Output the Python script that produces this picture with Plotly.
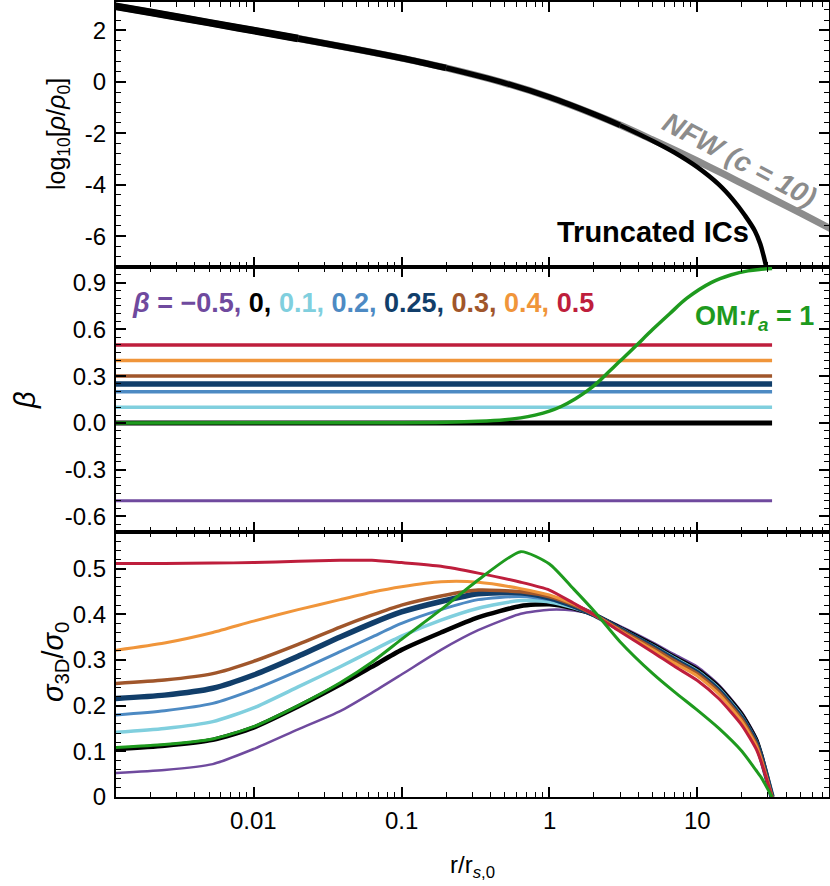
import math
import plotly.graph_objects as go
from plotly.subplots import make_subplots

# ---- top panel: log10 density ----
r_nfw = [0.0011, 0.002, 0.005, 0.01, 0.02, 0.05, 0.1, 0.2, 0.5, 1, 2, 3, 5, 7, 10, 15, 20, 30, 50, 80]
rho_nfw = [2.96, 2.70, 2.30, 1.99, 1.68, 1.26, 0.92, 0.54, -0.05, -0.60, -1.26, -1.68,
           -2.26, -2.65, -3.08, -3.58, -3.95, -4.46, -5.11, -5.72]
r_trunc = [0.0011, 0.002, 0.005, 0.01, 0.02, 0.05, 0.1, 0.2, 0.5, 1, 2, 3, 5, 7, 10,
           14, 17.5, 21, 24.5, 26.6, 28, 29.5]
rho_trunc = [2.96, 2.70, 2.30, 1.99, 1.68, 1.26, 0.92, 0.54, -0.05, -0.60, -1.26, -1.69,
             -2.30, -2.75, -3.32, -4.0, -4.6, -5.2, -5.8, -6.3, -6.75, -7.3]

# ---- middle panel: anisotropy ----
beta_vals = [-0.5, 0, 0.1, 0.2, 0.25, 0.3, 0.4, 0.5]
beta_names = ['−0.5', '0', '0.1', '0.2', '0.25', '0.3', '0.4', '0.5']
beta_colors = ['#6F4A9E', '#000000', '#80CFDE', '#4D8AC3', '#113E6A', '#A0562B', '#F0953A', '#BE1E3C']
r_beta = [0.0011, 32]
r_om = [0.0011, 0.1, 0.2, 0.33, 0.5, 0.64, 0.8, 1.0, 1.2, 1.5, 1.8, 2.15, 2.5, 2.95,
        3.4, 3.9, 5.0, 6.5, 8.5, 12.4, 17, 22, 27, 32]
beta_om = [0.0, 0.001, 0.004, 0.01, 0.02, 0.032, 0.05, 0.075, 0.105, 0.155, 0.205, 0.265,
           0.325, 0.39, 0.445, 0.5, 0.6, 0.7, 0.8, 0.9, 0.95, 0.975, 0.985, 0.99]

# ---- bottom panel: velocity dispersion ----
r_sig = [0.0011, 0.0025, 0.0053, 0.01, 0.02, 0.0385, 0.063, 0.1, 0.185, 0.33, 0.64, 1.0,
         1.46, 2.03, 3.0, 5.0, 7.0, 10.0, 14.0, 20.0, 25.0, 27.0, 32.0]
sig_m05 = [0.052, 0.059, 0.072, 0.105, 0.148, 0.188, 0.228, 0.268, 0.322, 0.365, 0.401, 0.41,
           0.408, 0.398, 0.374, 0.338, 0.312, 0.285, 0.245, 0.185, 0.13, 0.096, 0.0]
sig_0 = [0.104, 0.112, 0.125, 0.152, 0.198, 0.246, 0.285, 0.322, 0.36, 0.393, 0.418, 0.422,
         0.413, 0.398, 0.37, 0.333, 0.306, 0.279, 0.24, 0.18, 0.125, 0.092, 0.0]
sig_01 = [0.141, 0.15, 0.165, 0.195, 0.241, 0.285, 0.32, 0.352, 0.387, 0.413, 0.43, 0.427,
          0.414, 0.398, 0.369, 0.331, 0.304, 0.276, 0.237, 0.177, 0.122, 0.09, 0.0]
sig_02 = [0.179, 0.189, 0.205, 0.235, 0.276, 0.318, 0.35, 0.38, 0.41, 0.432, 0.439, 0.432,
          0.416, 0.398, 0.368, 0.329, 0.301, 0.273, 0.234, 0.174, 0.12, 0.088, 0.0]
sig_025 = [0.215, 0.223, 0.238, 0.267, 0.308, 0.35, 0.38, 0.405, 0.428, 0.445, 0.447, 0.436,
           0.418, 0.398, 0.367, 0.328, 0.3, 0.272, 0.232, 0.172, 0.118, 0.087, 0.0]
sig_03 = [0.248, 0.256, 0.27, 0.297, 0.334, 0.372, 0.398, 0.42, 0.44, 0.453, 0.449, 0.438,
          0.42, 0.398, 0.366, 0.326, 0.298, 0.27, 0.23, 0.17, 0.116, 0.085, 0.0]
sig_04 = [0.32, 0.337, 0.36, 0.385, 0.41, 0.432, 0.448, 0.46, 0.471, 0.47, 0.456, 0.442,
          0.422, 0.398, 0.364, 0.322, 0.293, 0.265, 0.225, 0.165, 0.112, 0.082, 0.0]
sig_05 = [0.511, 0.511, 0.512, 0.513, 0.516, 0.518, 0.518, 0.513, 0.505, 0.49, 0.47, 0.453,
          0.424, 0.398, 0.362, 0.317, 0.286, 0.255, 0.215, 0.157, 0.105, 0.077, 0.0]
sig_om = [0.108, 0.115, 0.127, 0.154, 0.2, 0.25, 0.295, 0.345, 0.41, 0.475, 0.537, 0.51,
          0.455, 0.405, 0.34, 0.27, 0.23, 0.19, 0.15, 0.1, 0.058, 0.043, 0.0]
sig_all = [sig_m05, sig_0, sig_01, sig_02, sig_025, sig_03, sig_04, sig_05]

x_ticks = [0.01, 0.1, 1, 10]
x_ticktext = ['0.01', '0.1', '1', '10']

line_w_mid = [3, 5, 3.5, 3.5, 5.5, 3.5, 3.5, 3.5]
line_w_bot = [2.5, 4.5, 3.5, 3, 5.5, 3.5, 3, 3]
green = '#1E9A1E'
grey = '#8C8C8C'
FONT = 'Liberation Sans, Arial, sans-serif'

fig = make_subplots(rows=3, cols=1, shared_xaxes=True, vertical_spacing=0)

fig.add_trace(go.Scatter(x=r_nfw, y=rho_nfw, mode='lines', line=dict(color=grey, width=7, shape='spline')), 1, 1)
# the truncated profile is drawn thick at small r and thinner further out
for a, b, w in [(0, 5, 7.5), (4, 8, 6.5), (7, 12, 5.5), (11, len(r_trunc), 4.5)]:
    fig.add_trace(go.Scatter(x=r_trunc[a:b], y=rho_trunc[a:b], mode='lines',
                             line=dict(color='black', width=w, shape='spline')), 1, 1)

for b, c, w in zip(beta_vals, beta_colors, line_w_mid):
    fig.add_trace(go.Scatter(x=r_beta, y=[b, b], mode='lines', line=dict(color=c, width=w)), 2, 1)
fig.add_trace(go.Scatter(x=r_om, y=beta_om, mode='lines', line=dict(color=green, width=3.5, shape='spline')), 2, 1)

for s, c, w in zip(sig_all, beta_colors, line_w_bot):
    fig.add_trace(go.Scatter(x=r_sig, y=s, mode='lines', line=dict(color=c, width=w, shape='spline', smoothing=0.6)), 3, 1)
fig.add_trace(go.Scatter(x=r_sig, y=sig_om, mode='lines', line=dict(color=green, width=3, shape='spline', smoothing=0.6)), 3, 1)

# axes
minor_x = [m * 10 ** e for e in range(-3, 2) for m in range(2, 10)]


def minor_vals(lo, hi, step, majors):
    out = []
    n = int(round((hi - lo) / step))
    for k in range(n + 1):
        v = round(lo + k * step, 4)
        if all(abs(v - m) > 1e-6 for m in majors):
            out.append(v)
    return out


axis_common = dict(showline=True, linewidth=2, linecolor='black', mirror='ticks',
                   ticks='inside', ticklen=10, tickwidth=1.5, tickcolor='black',
                   showgrid=False, zeroline=False, automargin=False,
                   tickfont=dict(family=FONT, size=24, color='black'))

for i in (1, 2, 3):
    fig.update_xaxes(type='log', range=[-2.93, 1.89], tickvals=x_ticks,
                     minor=dict(ticks='inside', ticklen=5, tickwidth=1.2, tickcolor='black',
                                tickmode='array', tickvals=minor_x),
                     showticklabels=False, row=i, col=1, **axis_common)

y1_major = [-6, -4, -2, 0, 2]
y2_major = [-0.6, -0.3, 0.0, 0.3, 0.6, 0.9]
y3_major = [0, 0.1, 0.2, 0.3, 0.4, 0.5]

fig.update_yaxes(range=[-7.2, 3.1], tickvals=y1_major, ticktext=['-6', '-4', '-2', '0', '2'],
                 minor=dict(ticks='inside', ticklen=5, tickwidth=1.2, tickcolor='black',
                            tickmode='array', tickvals=minor_vals(-7.2, 3.2, 0.4, y1_major)),
                 ticklabelstandoff=3, row=1, col=1, **axis_common)
fig.update_yaxes(range=[-0.7, 1.0], tickvals=y2_major,
                 ticktext=['-0.6', '-0.3', '0.0', '0.3', '0.6', '0.9'],
                 minor=dict(ticks='inside', ticklen=5, tickwidth=1.2, tickcolor='black',
                            tickmode='array', tickvals=minor_vals(-0.7, 1.0, 0.05, y2_major)),
                 ticklabelstandoff=3, row=2, col=1, **axis_common)
fig.update_yaxes(range=[0, 0.58], tickvals=y3_major,
                 ticktext=['0', '0.1', '0.2', '0.3', '0.4', '0.5'],
                 minor=dict(ticks='inside', ticklen=5, tickwidth=1.2, tickcolor='black',
                            tickmode='array', tickvals=minor_vals(0, 0.58, 0.02, y3_major)),
                 ticklabelstandoff=3, row=3, col=1, **axis_common)

# text labels, placed in pixel terms of the plot frame
L, R, T, B = 116, 829, 2, 797


def px(x, y):
    return (x - L) / (R - L), (B - y) / (B - T)


def label(text, x, y, size, color='black', xanchor='center', angle=0):
    xp, yp = px(x, y)
    fig.add_annotation(text=text, x=xp, y=yp, xref='paper', yref='paper', showarrow=False,
                       xanchor=xanchor, yanchor='middle', textangle=angle,
                       font=dict(family=FONT, size=size, color=color))


# x tick labels sit a bit closer to the frame than plotly's default
for v, t in zip(x_ticks, x_ticktext):
    fig.add_annotation(text=t, x=math.log10(v), xref='x3', y=px(0, 820)[1], yref='paper',
                       showarrow=False, xanchor='center', yanchor='middle',
                       font=dict(family=FONT, size=24, color='black'))

legend = f'<span style="color:{beta_colors[0]}"><b><i>β</i> = {beta_names[0]},</b></span>' + \
    ''.join(f'<b><span style="color:{c}"> {n}{"," if k < len(beta_names) - 1 else ""}</span></b>'
            for k, (n, c) in enumerate(zip(beta_names, beta_colors)) if k > 0)

label(legend, 130, 303, 27, xanchor='left')
label('<b>OM:<i>r</i><sub><i>a</i></sub> = 1</b>', 816, 318, 27, color=green, xanchor='right')
label('<b>Truncated ICs</b>', 751, 232, 29, xanchor='right')
label('<b><i>NFW (c = 10)</i></b>', 739, 160, 28, color=grey, angle=28)

label('log<sub>10</sub>[<i>ρ</i>/<i>ρ</i><sub>0</sub>]', 58, 134, 25, angle=-90)
label('<i>β</i>', 25, 400, 29, angle=-90)
label('<i>σ</i><sub>3D</sub>/<i>σ</i><sub>0</sub>', 55, 662, 29, angle=-90)
label('r/r<sub><i>s</i>,0</sub>', 472, 866, 24)

fig.update_layout(width=830, height=886, showlegend=False,
                  margin=dict(l=L, r=830 - R, t=T, b=886 - B),
                  paper_bgcolor='white', plot_bgcolor='white',
                  font=dict(family=FONT, color='black'))

# drop the browser's default page margin so the figure sits at the window corner
fig.write_html("out.html", config={'displayModeBar': False},
               post_script="document.body.style.margin='0px';"
                           "document.body.style.overflow='hidden';")
